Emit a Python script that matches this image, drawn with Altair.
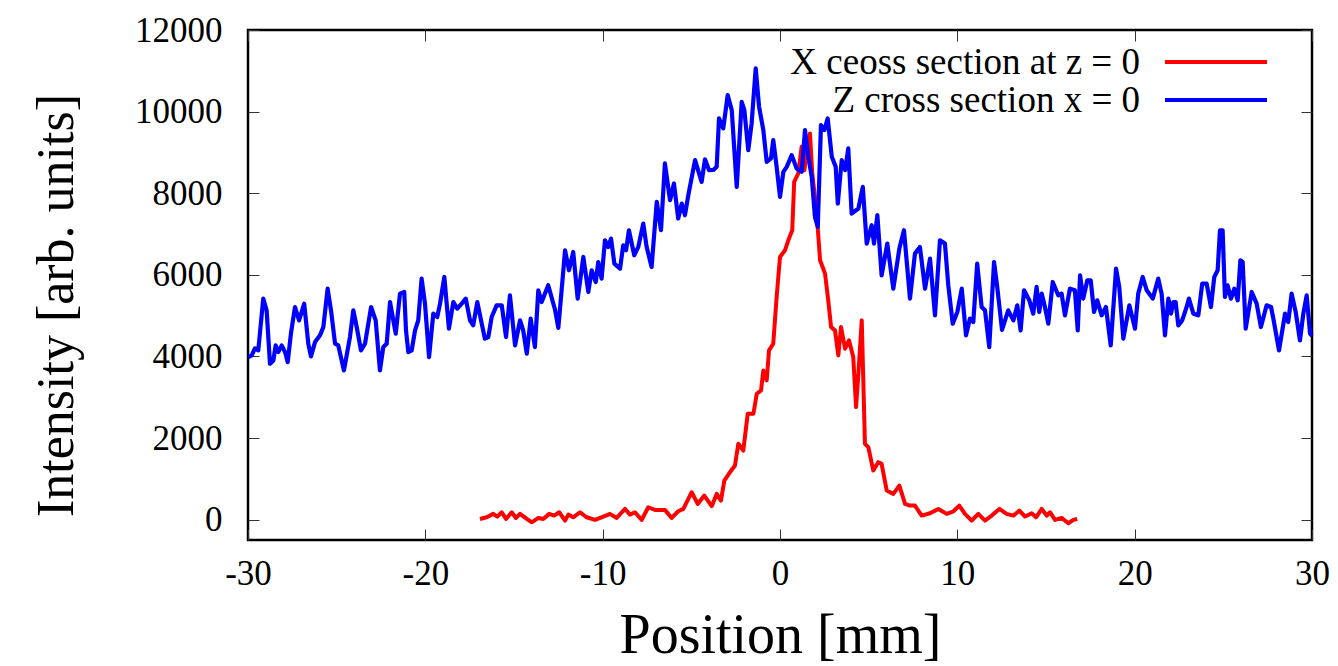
import altair as alt
import pandas as pd

# ---------------- data ----------------
x_red = [-16.92, -16.54, -16.17, -15.94, -15.69, -15.45, -15.13, -14.89, -14.66, -14.28,
         -14.00, -13.63, -13.35, -13.01, -12.74, -12.45, -12.12, -11.94, -11.66, -11.28,
         -10.90, -10.43, -9.96, -9.59, -9.21, -8.74, -8.46, -8.18, -7.80, -7.43,
         -7.05, -6.49, -6.11, -5.74, -5.45, -4.98, -4.64, -4.27, -3.85, -3.57,
         -3.33, -3.14, -2.82, -2.54, -2.35, -2.07, -1.82, -1.50, -1.31, -1.07,
         -0.94, -0.75, -0.62, -0.38, -0.19, 0.00, 0.28, 0.47, 0.69, 0.80,
         1.03, 1.22, 1.37, 1.69, 1.82, 2.07, 2.26, 2.54, 2.72, 2.88,
         3.10, 3.29, 3.44, 3.67, 3.89, 4.13, 4.29, 4.42, 4.61, 4.79,
         4.98, 5.26, 5.54, 5.73, 6.02, 6.39, 6.73, 7.05, 7.33, 7.61,
         7.99, 8.46, 8.93, 9.40, 9.78, 10.11, 10.43, 10.81, 11.18, 11.56,
         11.94, 12.37, 12.78, 13.16, 13.50, 13.82, 14.19, 14.44, 14.76, 15.04,
         15.23, 15.51, 15.88, 16.26, 16.54, 16.76]
y_red = [16, 57, 140, 74, 180, 16, 180, 41, 140, 16,
         -66, 41, 16, 140, 98, 180, -25, 123, 57, 180,
         57, -8, 74, 140, 41, 262, 123, 180, -8, 303,
         238, 238, 41, 204, 262, 671, 385, 589, 330, 630,
         466, 957, 1161, 1325, 1858, 1693, 2594, 2594, 3085, 3166,
         3656, 3411, 4147, 4311, 5455, 6437, 6601, 6846, 7092, 8277,
         8483, 9137, 8565, 9465, 8483, 7501, 6356, 6029, 5374, 4720,
         4638, 4025, 4720, 4189, 4393, 3983, 2757, 3576, 4883, 1858,
         1775, 1203, 1407, 1367, 712, 630, 834, 385, 344, 344,
         98, 155, 262, 140, 204, 344, 140, -25, 140, -25,
         98, 262, 140, 98, 221, 74, 155, 57, 262, 98,
         180, -8, 41, -90, -8, 16]

x_blue = [-29.98, -29.79, -29.61, -29.42, -29.14, -28.95, -28.76, -28.57, -28.44, -28.29,
          -28.10, -27.91, -27.76, -27.58, -27.35, -27.12, -26.83, -26.60, -26.45, -26.22,
          -25.94, -25.75, -25.51, -25.32, -25.09, -24.91, -24.59, -24.25, -24.06, -23.87,
          -23.63, -23.40, -23.06, -22.80, -22.56, -22.37, -22.18, -21.99, -21.67, -21.43,
          -21.19, -21.09, -20.96, -20.77, -20.58, -20.40, -20.21, -20.02, -19.79, -19.55,
          -19.33, -19.17, -18.93, -18.67, -18.42, -18.20, -17.95, -17.72, -17.48, -17.30,
          -17.07, -16.82, -16.64, -16.45, -16.26, -15.98, -15.69, -15.45, -15.23, -14.94,
          -14.66, -14.48, -14.28, -14.06, -13.82, -13.63, -13.44, -13.07, -12.69, -12.50,
          -12.12, -11.90, -11.66, -11.41, -11.09, -10.81, -10.62, -10.39, -10.25, -10.06,
          -9.87, -9.68, -9.53, -9.34, -9.02, -8.84, -8.68, -8.52, -8.22, -7.99,
          -7.71, -7.52, -7.24, -6.95, -6.71, -6.49, -6.20, -5.98, -5.74, -5.54,
          -5.36, -5.17, -4.79, -4.42, -4.23, -4.00, -3.76, -3.57, -3.44, -3.20,
          -2.95, -2.72, -2.44, -2.16, -2.01, -1.79, -1.60, -1.37, -1.18, -0.94,
          -0.75, -0.51, -0.38, -0.19, 0.00, 0.19, 0.38, 0.66, 0.94, 1.22,
          1.41, 1.60, 1.79, 1.97, 2.13, 2.31, 2.50, 2.69, 2.92, 3.14,
          3.26, 3.48, 3.67, 3.85, 4.04, 4.42, 4.67, 4.89, 5.17, 5.30,
          5.49, 5.73, 6.05, 6.39, 6.73, 6.99, 7.33, 7.61, 7.89, 8.18,
          8.46, 8.74, 9.02, 9.30, 9.49, 9.74, 10.00, 10.25, 10.49, 10.71,
          10.90, 11.12, 11.37, 11.56, 11.80, 12.07, 12.25, 12.52, 12.87, 13.16,
          13.38, 13.57, 13.76, 14.06, 14.28, 14.47, 14.62, 14.76, 14.94, 15.13,
          15.38, 15.69, 15.88, 16.07, 16.35, 16.63, 16.79, 16.92, 17.10, 17.33,
          17.52, 17.71, 17.89, 18.14, 18.38, 18.65, 18.95, 19.13, 19.36, 19.70,
          20.02, 20.20, 20.45, 20.68, 21.02, 21.33, 21.52, 21.71, 21.90, 22.05,
          22.18, 22.31, 22.46, 22.68, 22.93, 23.06, 23.31, 23.59, 23.81, 24.06,
          24.30, 24.49, 24.68, 24.81, 24.96, 25.09, 25.24, 25.43, 25.62, 25.81,
          25.96, 26.09, 26.26, 26.60, 26.88, 27.12, 27.44, 27.69, 27.82, 28.14,
          28.48, 28.66, 28.85, 29.08, 29.32, 29.51, 29.70, 29.89, 30.00]
y_blue = [3983, 4025, 4196, 4147, 5416, 5129, 3820, 3902, 4270, 4106,
          4270, 4106, 3860, 4557, 5210, 4883, 5293, 4311, 4000, 4351,
          4516, 4720, 5661, 5129, 4311, 4270, 3656, 4474, 5129, 4720,
          4147, 4311, 5210, 4883, 3656, 4229, 4311, 5333, 4557, 5539,
          5579, 4638, 4106, 4147, 4638, 4883, 5907, 5293, 3983, 5048,
          4965, 5293, 5947, 4680, 5333, 5170, 5293, 5416, 4883, 4761,
          5333, 4802, 4434, 4474, 4965, 5252, 5252, 4474, 5497, 4270,
          4883, 4638, 4066, 4925, 4229, 5620, 5333, 5743, 5150, 4700,
          6601, 6110, 6560, 5416, 6437, 5579, 6110, 5824, 6314, 5907,
          6846, 6683, 6888, 6274, 6151, 6724, 6601, 7092, 6479, 6683,
          7256, 6683, 6192, 7787, 7092, 8729, 7828, 8238, 7379, 7747,
          7460, 7951, 8810, 8277, 8830, 8564, 8570, 8646, 9833, 9588,
          10405, 10037, 8155, 10241, 10037, 9055, 9711, 11060, 10118, 9546,
          8769, 8852, 9301, 8646, 7910, 8524, 8646, 8933, 8606, 8524,
          9546, 8892, 8401, 7419, 7174, 9669, 9546, 9833, 8892, 8646,
          7747, 8810, 8565, 9097, 7500, 7624, 8155, 6765, 7215, 6765,
          7460, 5988, 6765, 5661, 6642, 7092, 5416, 6519, 6683, 5661,
          6397, 5006, 6846, 6765, 5743, 4802, 5088, 5661, 4516, 4925,
          4843, 6274, 5210, 5129, 4229, 6314, 5702, 4650, 5129, 4883,
          5252, 4638, 5620, 5374, 5048, 5702, 5088, 5538, 5210, 4802,
          5824, 5497, 5538, 5006, 5661, 5620, 4638, 5988, 5416, 5865,
          5865, 5088, 5374, 5006, 5210, 4270, 6151, 5702, 4434, 5252,
          4680, 5538, 5947, 5620, 5416, 5906, 5538, 4516, 5416, 5048,
          5333, 5333, 4761, 4883, 5210, 5416, 5048, 5006, 5784, 5784,
          5210, 5947, 6110, 7092, 7092, 5456, 5743, 5416, 5661, 5374,
          6356, 6315, 4680, 5579, 5293, 4720, 5252, 5210, 4925, 4147,
          5048, 4843, 5538, 5088, 4393, 5048, 5497, 4557, 4500]

series_names = ["X ceoss section at z = 0", "Z cross section x = 0"]
series_colors = ["#ff0000", "#0000ff"]
x_ticks = [-30, -20, -10, 0, 10, 20, 30]
y_ticks = [0, 2000, 4000, 6000, 8000, 10000, 12000]
x_domain = [-30, 30]
y_domain = [-500, 12000]

# ---------------- frames ----------------
red_df = pd.DataFrame({"pos": x_red, "val": y_red, "series": series_names[0]})
blue_df = pd.DataFrame({"pos": x_blue, "val": y_blue, "series": series_names[1]})

W, H = 1064, 510
FONT = "Liberation Serif"
color_scale = alt.Scale(domain=series_names, range=series_colors)
xs = alt.Scale(domain=x_domain, nice=False, zero=False)
ys = alt.Scale(domain=y_domain, nice=False, zero=False)


def tick_axis(orient, offset, values):
    return alt.Axis(orient=orient, offset=offset, values=values, labels=False,
                    domain=False, grid=False, ticks=True, tickSize=11,
                    tickColor="#333333", tickWidth=1, title=None)


x_main = alt.Axis(orient="bottom", values=x_ticks, ticks=False, tickSize=0,
                  domain=False, grid=False, labelFont=FONT, labelFontSize=35,
                  labelColor="black", labelPadding=44, labelBaseline="alphabetic",
                  labelFlush=False, labelOverlap=False, labelBound=False,
                  labelExpr="'' + datum.value",
                  title="Position [mm]", titleFont=FONT, titleFontSize=56,
                  titleFontWeight="normal", titleColor="black",
                  titleY=112, titleBaseline="alphabetic")
y_main = alt.Axis(orient="left", values=y_ticks, ticks=False, tickSize=0,
                  domain=False, grid=False, labelFont=FONT, labelFontSize=35,
                  labelColor="black", labelPadding=26, labelBaseline="middle",
                  labelFlush=False, labelOverlap=False, labelBound=False,
                  labelExpr="'' + datum.value",
                  title="Intensity [arb. units]", titleFont=FONT, titleFontSize=52,
                  titleFontWeight="normal", titleColor="black",
                  titleX=-165, titleY=275, titleAngle=270,
                  titleBaseline="bottom", titleAlign="center")

red_line = alt.Chart(red_df).mark_line(strokeWidth=4, strokeJoin="round").encode(
    x=alt.X("pos:Q", scale=xs, axis=x_main),
    y=alt.Y("val:Q", scale=ys, axis=y_main),
    color=alt.Color("series:N", scale=color_scale, legend=None),
)

blue_line = alt.Chart(blue_df).mark_line(strokeWidth=4.2, strokeJoin="round").encode(
    x=alt.X("pos:Q", scale=xs, axis=tick_axis("top", -H, x_ticks)),
    y=alt.Y("val:Q", scale=ys, axis=tick_axis("right", -W, y_ticks)),
    color=alt.Color("series:N", scale=color_scale, legend=None),
)

ghost = alt.Chart(blue_df).mark_line(opacity=0).encode(
    x=alt.X("pos:Q", scale=xs, axis=tick_axis("bottom", -H, x_ticks)),
    y=alt.Y("val:Q", scale=ys, axis=tick_axis("left", -W, y_ticks)),
)

# ---------------- key (gnuplot style: text, then line sample) ----------------
key_rows = []
for i, name in enumerate(series_names):
    one = pd.DataFrame({"series": [name]})
    ypix = 32 + 38 * i
    rule = alt.Chart(one).mark_rule(strokeWidth=4, strokeCap="butt").encode(
        x=alt.value(917), x2=alt.value(1019), y=alt.value(ypix),
        color=alt.Color("series:N", scale=color_scale, legend=None),
    )
    text = alt.Chart(one).mark_text(
        align="right", baseline="middle", font=FONT, fontSize=37, color="black"
    ).encode(x=alt.value(892), y=alt.value(ypix + 1), text="series:N")
    key_rows += [rule, text]

chart = alt.layer(red_line, blue_line, ghost, *key_rows).resolve_axis(
    x="independent", y="independent"
).properties(
    width=W, height=H,
    autosize=alt.AutoSizeParams(type="none"),
    padding={"left": 248, "top": 30, "right": 26, "bottom": 126},
    background="white",
).configure_view(stroke="black", strokeWidth=2.5)

chart.save("out.html", embed_options={"renderer": "svg", "actions": False})
